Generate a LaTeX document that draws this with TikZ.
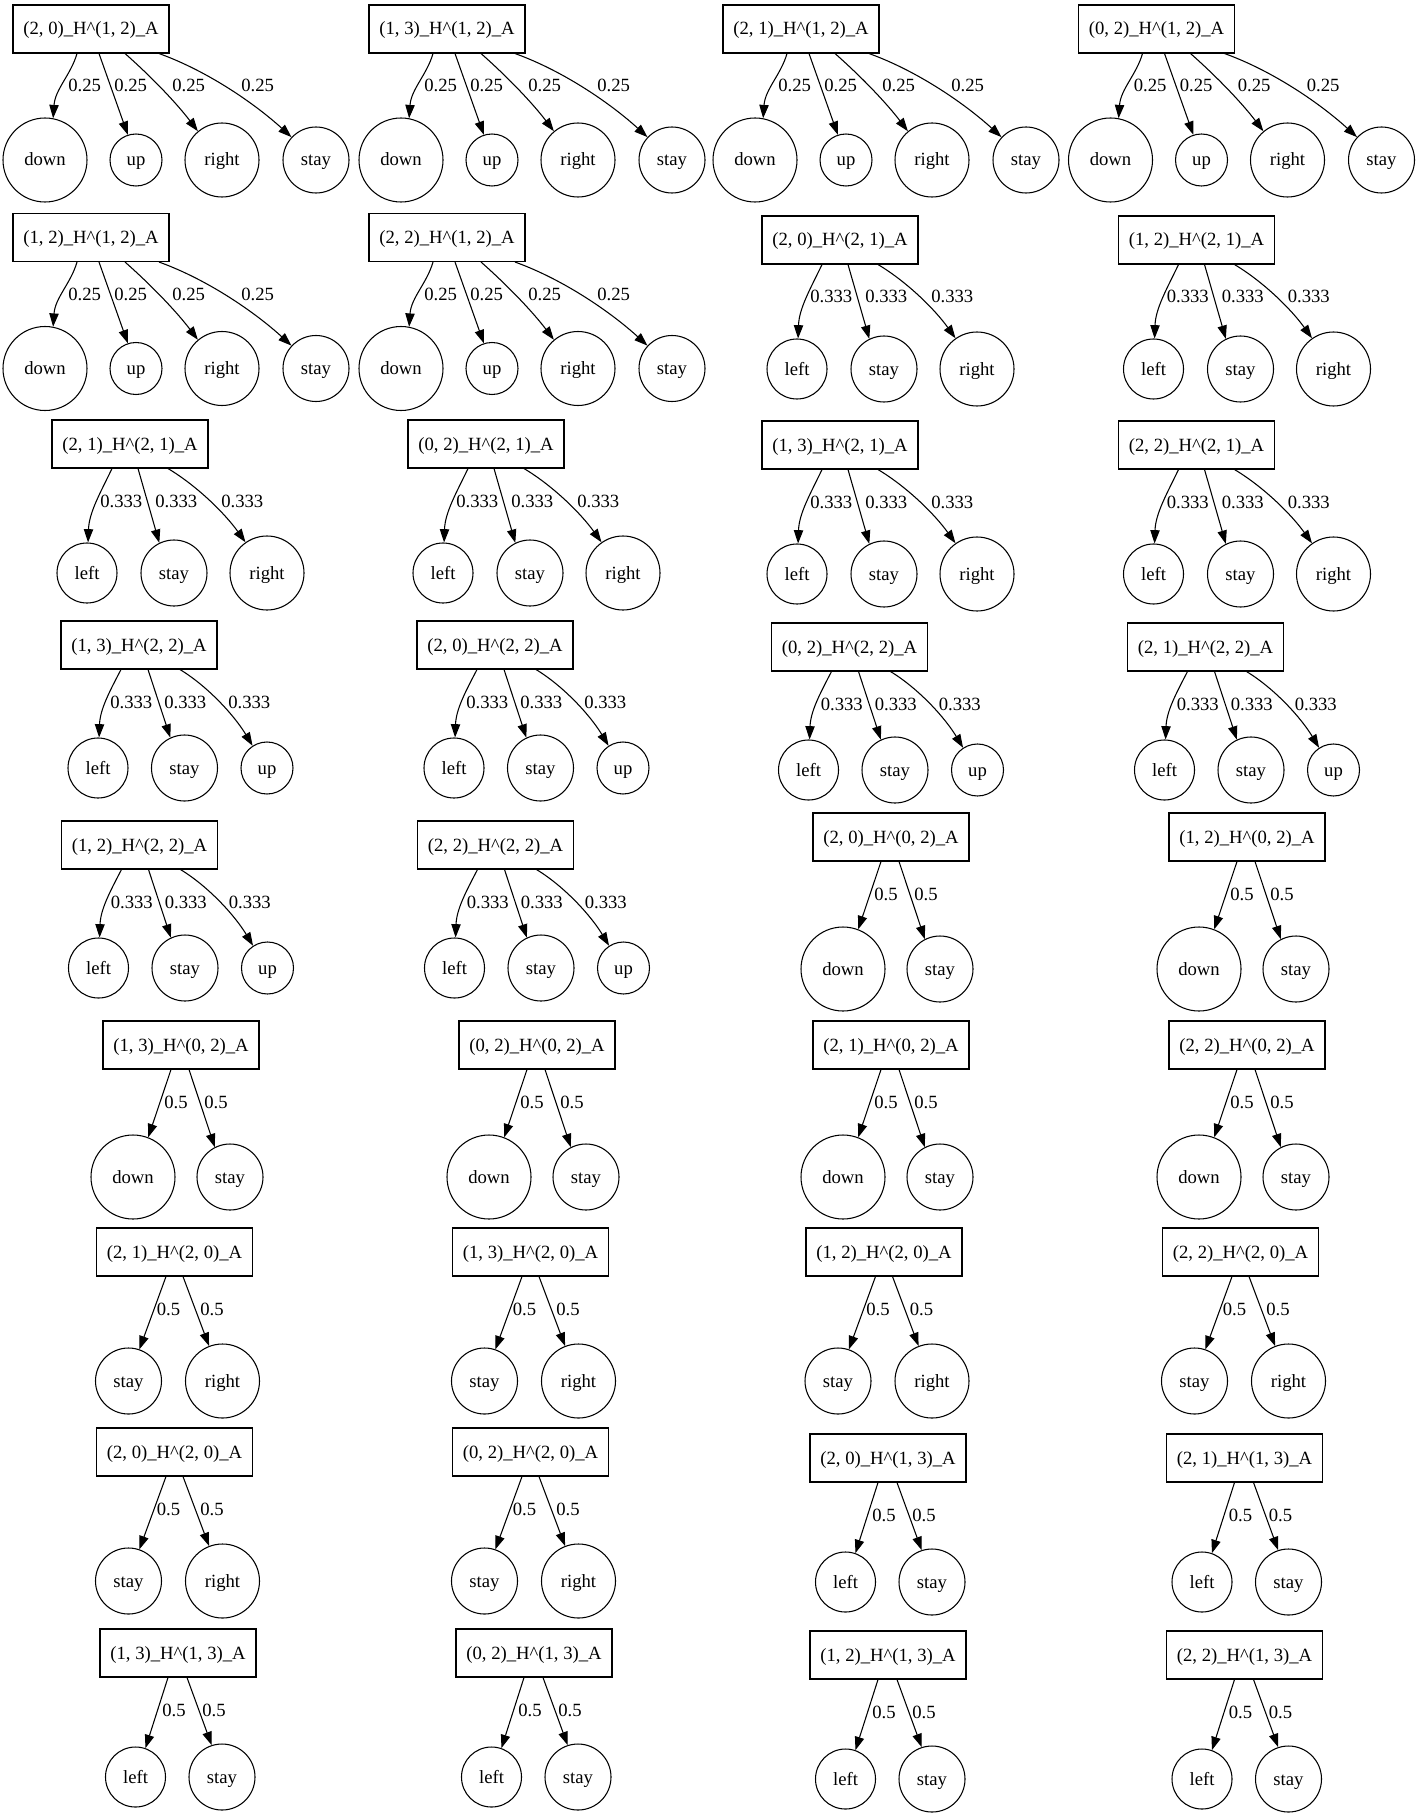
\documentclass[tikz,border=0pt]{standalone}
\usepackage{fontspec}
\setmainfont{Liberation Serif}
\usetikzlibrary{arrows.meta, calc}

\tikzset{
    % 定义节点样式
    mystate/.style={rectangle, draw=black, line width=0.8pt, minimum width=117pt, minimum height=36pt, inner sep=0pt, font=\fontsize{14}{16}\selectfont, text height=10.5pt, text depth=1.5pt},
    myaction/.style={circle, draw=black, line width=0.8pt, inner sep=0pt, font=\fontsize{14}{16}\selectfont, text height=10.5pt, text depth=1.5pt},
    adown/.style={myaction, minimum size=63pt},
    aup/.style={myaction, minimum size=39pt},
    aright/.style={myaction, minimum size=55.5pt},
    astay/.style={myaction, minimum size=49.5pt},
    aleft/.style={myaction, minimum size=45pt},
    myline/.style={line width=0.8pt, -{Triangle[length=10pt, width=7pt]}},
    mylabel/.style={font=\fontsize{14}{16}\selectfont, inner sep=0pt, anchor=base west}
}

% 四个动作: down, up, right, stay
\newcommand{\fourtree}[5]{%
    \node [mystate] (#1) at (#2,#3) {(#4)\_H\textasciicircum(#5)\_A};
    \node [adown] (#1d) at (#2-46,#3+131) {down};
    \node [aup] (#1u) at (#2+45,#3+131) {up};
    \node [aright] (#1r) at (#2+131,#3+131) {right};
    \node [astay] (#1s) at (#2+225,#3+131) {stay};
    \draw [myline] ($(#1.south)+(-14,0)$) .. controls +(-6,21) and +(2,-29) .. (#1d.79);
    \draw [myline] ($(#1.south)+(8,0)$) -- (#1u.108);
    \draw [myline] ($(#1.south)+(34,0)$) .. controls +(25,22) and +(-22,-29) .. (#1r.130);
    \draw [myline] ($(#1.south)+(68,0)$) .. controls +(50,18) and +(-35,-32) .. (#1s.137);
    \node [mylabel] (#1pd) at (#2-23,#3+63) {0.25};
    \node [mylabel] (#1pu) at (#2+23,#3+63) {0.25};
    \node [mylabel] (#1pr) at (#2+81,#3+63) {0.25};
    \node [mylabel] (#1ps) at (#2+150,#3+63) {0.25};
}

% 三个动作: left, stay, right
\newcommand{\lsrtree}[5]{%
    \node [mystate] (#1) at (#2,#3) {(#4)\_H\textasciicircum(#5)\_A};
    \node [aleft] (#1l) at (#2-43,#3+129) {left};
    \node [astay] (#1s) at (#2+44,#3+129) {stay};
    \node [aright] (#1r) at (#2+137,#3+129) {right};
    \draw [myline] ($(#1.south)+(-18,0)$) .. controls +(-12,25) and +(1,-30) .. (#1l.88);
    \draw [myline] ($(#1.south)+(8,0)$) -- (#1s.116);
    \draw [myline] ($(#1.south)+(38,0)$) .. controls +(30,18) and +(-20,-28) .. (#1r.125);
    \node [mylabel] (#1pl) at (#2-30,#3+63) {0.333};
    \node [mylabel] (#1ps) at (#2+25,#3+63) {0.333};
    \node [mylabel] (#1pr) at (#2+91,#3+63) {0.333};
}

% 三个动作: left, stay, up
\newcommand{\lsutree}[5]{%
    \node [mystate] (#1) at (#2,#3) {(#4)\_H\textasciicircum(#5)\_A};
    \node [aleft] (#1l) at (#2-41,#3+123) {left};
    \node [astay] (#1s) at (#2+45.5,#3+123) {stay};
    \node [aup] (#1u) at (#2+128,#3+123) {up};
    \draw [myline] ($(#1.south)+(-18,0)$) .. controls +(-12,23) and +(1,-28) .. (#1l.88);
    \draw [myline] ($(#1.south)+(9,0)$) -- (#1s.115);
    \draw [myline] ($(#1.south)+(41,0)$) .. controls +(28,17) and +(-18,-30) .. (#1u.123);
    \node [mylabel] (#1pl) at (#2-29,#3+63) {0.333};
    \node [mylabel] (#1ps) at (#2+25,#3+63) {0.333};
    \node [mylabel] (#1pu) at (#2+89,#3+63) {0.333};
}

% 两个动作: down, stay
\newcommand{\dstree}[5]{%
    \node [mystate] (#1) at (#2,#3) {(#4)\_H\textasciicircum(#5)\_A};
    \node [adown] (#1d) at (#2-48,#3+132) {down};
    \node [astay] (#1s) at (#2+49,#3+132) {stay};
    \draw [myline] ($(#1.south)+(-10,0)$) -- (#1d.69);
    \draw [myline] ($(#1.south)+(8,0)$) -- (#1s.117);
    \node [mylabel] (#1pd) at (#2-17,#3+63) {0.5};
    \node [mylabel] (#1ps) at (#2+23,#3+63) {0.5};
}

% 两个动作: stay, right
\newcommand{\srtree}[5]{%
    \node [mystate] (#1) at (#2,#3) {(#4)\_H\textasciicircum(#5)\_A};
    \node [astay] (#1s) at (#2-46,#3+129) {stay};
    \node [aright] (#1r) at (#2+48,#3+129) {right};
    \draw [myline] ($(#1.south)+(-8.5,0)$) -- (#1s.71);
    \draw [myline] ($(#1.south)+(8.5,0)$) -- (#1r.111);
    \node [mylabel] (#1ps) at (#2-18,#3+63) {0.5};
    \node [mylabel] (#1pr) at (#2+25.5,#3+63) {0.5};
}

% 两个动作: left, stay
\newcommand{\lstree}[5]{%
    \node [mystate] (#1) at (#2,#3) {(#4)\_H\textasciicircum(#5)\_A};
    \node [aleft] (#1l) at (#2-42.5,#3+124) {left};
    \node [astay] (#1s) at (#2+44,#3+124) {stay};
    \draw [myline] ($(#1.south)+(-10,0)$) -- (#1l.71);
    \draw [myline] ($(#1.south)+(9,0)$) -- (#1s.108);
    \node [mylabel] (#1pl) at (#2-16,#3+63) {0.5};
    \node [mylabel] (#1ps) at (#2+24,#3+63) {0.5};
}

\begin{document}
\begin{tikzpicture}[x=0.75pt, y=-0.75pt]
    \useasboundingbox (0,0) rectangle (1419,1815);

    % 第一列
    \fourtree{a1}{91}{29}{2, 0}{1, 2}
    \fourtree{a2}{91}{237.5}{1, 2}{1, 2}
    \lsrtree{a3}{130}{444}{2, 1}{2, 1}
    \lsutree{a4}{139}{645}{1, 3}{2, 2}
    \lsutree{a5}{139.5}{845}{1, 2}{2, 2}
    \dstree{a6}{181}{1045}{1, 3}{0, 2}
    \srtree{a7}{174.5}{1252}{2, 1}{2, 0}
    \srtree{a8}{174.5}{1452}{2, 0}{2, 0}
    \lstree{a9}{178}{1653}{1, 3}{1, 3}

    % 第二列
    \fourtree{b1}{447}{29}{1, 3}{1, 2}
    \fourtree{b2}{447}{237.5}{2, 2}{1, 2}
    \lsrtree{b3}{486}{444}{0, 2}{2, 1}
    \lsutree{b4}{495}{645}{2, 0}{2, 2}
    \lsutree{b5}{495.5}{845}{2, 2}{2, 2}
    \dstree{b6}{537}{1045}{0, 2}{0, 2}
    \srtree{b7}{530.5}{1252}{1, 3}{2, 0}
    \srtree{b8}{530.5}{1452}{0, 2}{2, 0}
    \lstree{b9}{534}{1653}{0, 2}{1, 3}

    % 第三列
    \fourtree{c1}{801}{29}{2, 1}{1, 2}
    \lsrtree{c2}{840}{240}{2, 0}{2, 1}
    \lsrtree{c3}{840}{445}{1, 3}{2, 1}
    \lsutree{c4}{849.5}{647}{0, 2}{2, 2}
    \dstree{c5}{891}{837}{2, 0}{0, 2}
    \dstree{c6}{891}{1045}{2, 1}{0, 2}
    \srtree{c7}{884}{1252}{1, 2}{2, 0}
    \lstree{c8}{888}{1458}{2, 0}{1, 3}
    \lstree{c9}{888}{1655}{1, 2}{1, 3}

    % 第四列
    \fourtree{d1}{1156.5}{29}{0, 2}{1, 2}
    \lsrtree{d2}{1196.5}{240}{1, 2}{2, 1}
    \lsrtree{d3}{1196.5}{445}{2, 2}{2, 1}
    \lsutree{d4}{1205.5}{647}{2, 1}{2, 2}
    \dstree{d5}{1247}{837}{1, 2}{0, 2}
    \dstree{d6}{1247}{1045}{2, 2}{0, 2}
    \srtree{d7}{1240.5}{1252}{2, 2}{2, 0}
    \lstree{d8}{1244.5}{1458}{2, 1}{1, 3}
    \lstree{d9}{1244.5}{1655}{2, 2}{1, 3}
\end{tikzpicture}
\end{document}
